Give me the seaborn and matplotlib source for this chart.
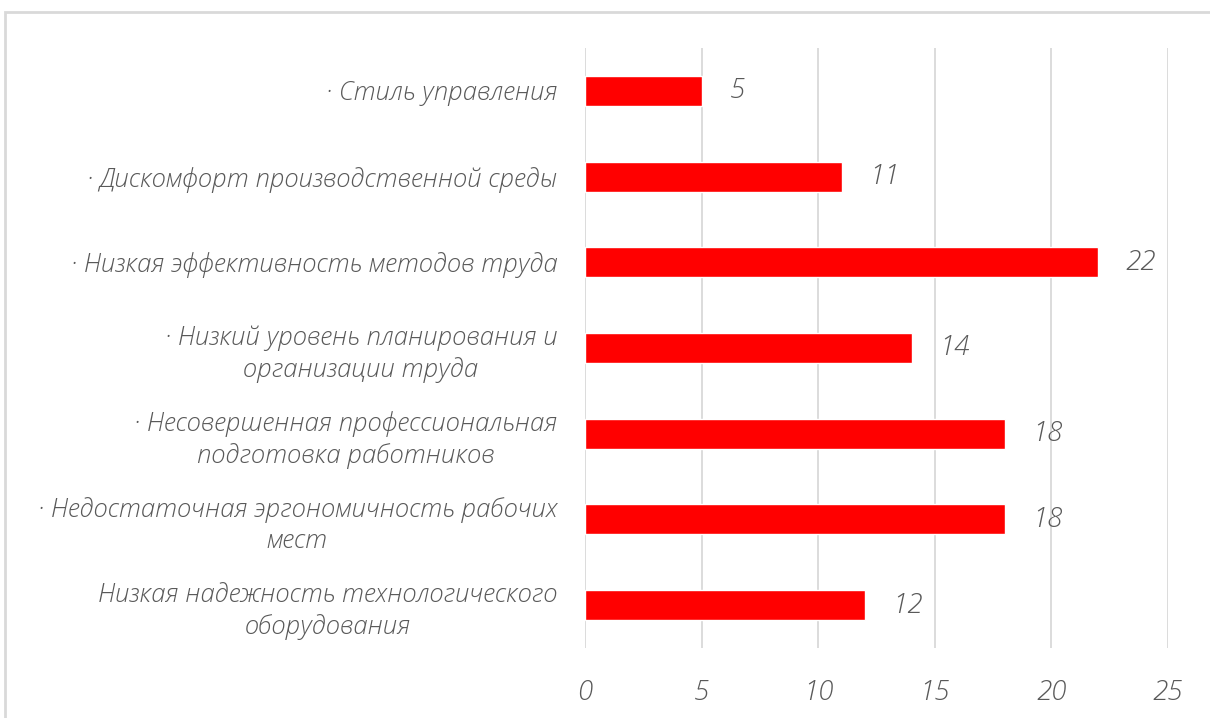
import matplotlib
matplotlib.use("Agg")
import matplotlib.pyplot as plt
import matplotlib.patches as mpatches
import pandas as pd
import seaborn as sns

categories = [
    "· Стиль управления",
    "· Дискомфорт производственной среды",
    "· Низкая эффективность методов труда",
    "· Низкий уровень планирования и\nорганизации труда",
    "· Несовершенная профессиональная\nподготовка работников",
    "· Недостаточная эргономичность рабочих\nмест",
    "Низкая надежность технологического\nоборудования",
]
values = [5, 11, 22, 14, 18, 18, 12]
x_ticks = [0, 5, 10, 15, 20, 25]

df = pd.DataFrame({"factor": categories, "value": values})

sns.set_theme(style="white")
plt.rcParams["font.family"] = ["Open Sans", "DejaVu Sans"]
text_color = "#595959"
font_kw = dict(style="italic", weight="light", color=text_color)

fig = plt.figure(figsize=(12.1, 7.18), dpi=100)
ax = fig.add_axes([0.4835, 0.0975, 0.4818, 0.8357])

sns.barplot(data=df, x="value", y="factor", color="#ff0000", saturation=1,
            width=0.35, ax=ax, orient="h")

ax.set_xlim(0, 25)
ax.set_xticks(x_ticks)
ax.xaxis.grid(True, color="#d9d9d9", linewidth=1.3)
ax.set_axisbelow(True)
for s in ax.spines.values():
    s.set_visible(False)
ax.set_xlabel("")
ax.set_ylabel("")
ax.tick_params(axis="both", length=0)
ax.tick_params(axis="x", pad=22)
ax.tick_params(axis="y", pad=20)

ax.set_xticklabels([str(t) for t in x_ticks], fontsize=20, **font_kw)
ax.set_yticklabels(categories, fontsize=18.5, multialignment="center",
                   linespacing=1.3, **font_kw)

for container in ax.containers:
    ax.bar_label(container, padding=20, fontsize=20, **font_kw)

# chart frame
fig.patches.append(mpatches.Rectangle((5 / 1210, -0.1), 1.1, 1 - 12 / 718 + 0.1,
                                      transform=fig.transFigure, fill=False,
                                      edgecolor="#d9d9d9", linewidth=2))

fig.savefig("out.png", dpi=100)
